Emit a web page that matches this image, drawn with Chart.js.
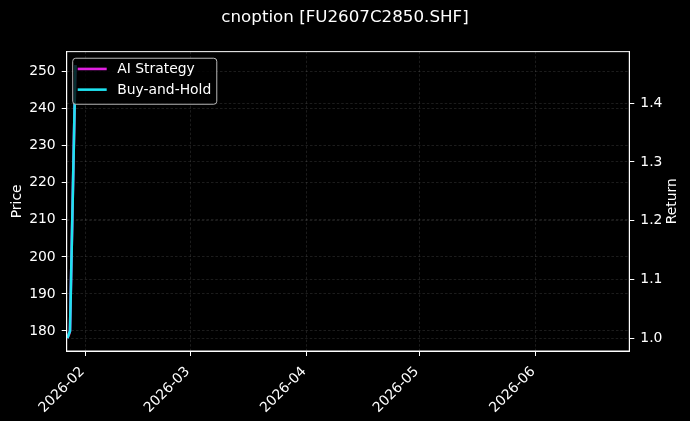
<!DOCTYPE html>
<html>
<head>
<meta charset="utf-8">
<script src="https://cdn.jsdelivr.net/npm/chart.js@4.4.1/dist/chart.umd.min.js"></script>
<style>
html,body{margin:0;padding:0;background:#000;}
#wrap{width:690px;height:421px;position:relative;}
</style>
</head>
<body>
<div id="wrap"><canvas id="c"></canvas></div>
<script>
// ---- data ----
const titleText = 'cnoption [FU2607C2850.SHF]';
const dates = ['2026-01-27T08:00:00Z', '2026-01-28T00:00:00Z', '2026-01-29T11:00:00Z'];
const priceValues = [178.3, 179.0, 251.8];
const aiReturn = [1.0, 1.012, 1.465];
const bhReturn = [1.0, 1.012, 1.465];
const seriesLabels = ['AI Strategy', 'Buy-and-Hold'];
const axisTitles = ['Price', 'Return'];
const xTickDates = ['2026-02-01', '2026-03-01', '2026-04-01', '2026-05-01', '2026-06-01'];
const priceTicks = [180, 190, 200, 210, 220, 230, 240, 250];
const returnTicks = [1.0, 1.1, 1.2, 1.3, 1.4];
const xRange = ['2026-01-27T03:00:00Z', '2026-06-25T22:00:00Z'];
const priceRange = [174.6, 255.4];
const returnRange = [0.978, 1.488];

// ---- styling ----
const FONT = 'DejaVu Sans';
const TICK_SIZE = 13.9;
const gridColor = 'rgba(255,255,255,0.16)';
const magenta = '#e020e0';
const cyan = '#1ee3f0';
const LW = 2.6;

Chart.defaults.font.family = FONT;
Chart.defaults.color = '#ffffff';

const toPts = (vals) => vals.map((v, i) => ({x: Date.parse(dates[i]), y: v}));
const pad2 = (n) => (n < 10 ? '0' : '') + n;

const frameAndLegend = {
  id: 'frameAndLegend',
  afterDraw(chart) {
    const ctx = chart.ctx;
    const a = chart.chartArea;
    ctx.save();
    // spines
    ctx.strokeStyle = '#ffffff';
    ctx.lineWidth = 1;
    ctx.strokeRect(a.left, a.top, a.right - a.left, a.bottom - a.top);

    // right axis title, reading bottom to top
    ctx.save();
    ctx.translate(chart.width - 18, (a.top + a.bottom) / 2);
    ctx.rotate(-Math.PI / 2);
    ctx.font = TICK_SIZE + 'px "' + FONT + '"';
    ctx.fillStyle = '#ffffff';
    ctx.textAlign = 'center';
    ctx.textBaseline = 'middle';
    ctx.fillText(axisTitles[1], 0, 0);
    ctx.restore();

    // legend (upper left, inside axes)
    const items = [0, 1].map(i => ({label: chart.data.datasets[i].label, color: chart.data.datasets[i].borderColor}));
    ctx.font = TICK_SIZE + 'px "' + FONT + '"';
    const maxW = Math.max(...items.map(it => ctx.measureText(it.label).width));
    const bx = a.left + 6, by = a.top + 6.6;
    const lineX0 = bx + 5, lineX1 = lineX0 + 29, textX = lineX1 + 10.5;
    const bw = textX - bx + maxW + 5.5, bh = 46;
    ctx.beginPath();
    if (ctx.roundRect) ctx.roundRect(bx, by, bw, bh, 3); else ctx.rect(bx, by, bw, bh);
    ctx.fillStyle = 'rgba(0,0,0,0.8)';
    ctx.fill();
    ctx.strokeStyle = '#b8b8b8';
    ctx.lineWidth = 1;
    ctx.stroke();
    items.forEach((it, k) => {
      const y = by + 10.7 + k * 20.7;
      ctx.beginPath();
      ctx.moveTo(lineX0, y);
      ctx.lineTo(lineX1, y);
      ctx.strokeStyle = it.color;
      ctx.lineWidth = LW;
      ctx.stroke();
      ctx.fillStyle = '#ffffff';
      ctx.textBaseline = 'middle';
      ctx.textAlign = 'left';
      ctx.fillText(it.label, textX, y + 0.5);
    });
    ctx.restore();
  }
};

new Chart(document.getElementById('c'), {
  type: 'line',
  data: {
    datasets: [
      {label: seriesLabels[0], data: toPts(aiReturn), yAxisID: 'y1', borderColor: magenta, backgroundColor: magenta, borderWidth: LW, pointRadius: 0, tension: 0, order: 2},
      {label: seriesLabels[1], data: toPts(bhReturn), yAxisID: 'y1', borderColor: cyan, backgroundColor: cyan, borderWidth: LW, pointRadius: 0, tension: 0, order: 1},
      {label: axisTitles[0], data: toPts(priceValues), yAxisID: 'y', borderColor: 'rgba(190,20,20,0.75)', backgroundColor: 'rgba(190,20,20,0.75)', borderWidth: 1.2, pointRadius: 0, tension: 0, order: 3}
    ]
  },
  options: {
    responsive: true,
    maintainAspectRatio: false,
    animation: false,
    layout: {padding: 0},
    plugins: {
      legend: {display: false},
      tooltip: {enabled: false},
      title: {
        display: true,
        text: titleText,
        color: '#ffffff',
        font: {family: FONT, size: 16.7, weight: 'normal'},
        padding: {top: 8, bottom: 23.6}
      }
    },
    scales: {
      x: {
        type: 'linear',
        position: 'bottom',
        min: Date.parse(xRange[0]),
        max: Date.parse(xRange[1]),
        afterBuildTicks: (s) => { s.ticks = xTickDates.map(d => ({value: Date.parse(d + 'T00:00:00Z')})); },
        afterFit: (s) => { s.height = 70; },
        ticks: {
          color: '#ffffff',
          font: {family: FONT, size: TICK_SIZE},
          autoSkip: false,
          minRotation: 45,
          maxRotation: 45,
          padding: 7.5,
          labelOffset: -2.5,
          callback: (v) => { const d = new Date(v); return d.getUTCFullYear() + '-' + pad2(d.getUTCMonth() + 1); }
        },
        grid: {color: gridColor, lineWidth: 0.7, tickColor: '#ffffff', tickLength: 5, tickWidth: 1},
        border: {display: true, color: '#ffffff', width: 1, dash: [2.5, 2]}
      },
      y: {
        type: 'linear',
        position: 'left',
        min: priceRange[0],
        max: priceRange[1],
        afterBuildTicks: (s) => { s.ticks = priceTicks.map(v => ({value: v})); },
        afterFit: (s) => { s.width = 66.7; },
        ticks: {color: '#ffffff', font: {family: FONT, size: TICK_SIZE}, padding: 6, callback: (v) => String(Math.round(v))},
        grid: {color: gridColor, lineWidth: 0.7, tickColor: '#ffffff', tickLength: 5, tickWidth: 1},
        border: {display: true, color: '#ffffff', width: 1, dash: [2.5, 2]},
        title: {display: true, text: axisTitles[0], color: '#ffffff', font: {family: FONT, size: TICK_SIZE}, padding: {top: 9, bottom: 0}}
      },
      y1: {
        type: 'linear',
        position: 'right',
        min: returnRange[0],
        max: returnRange[1],
        afterBuildTicks: (s) => { s.ticks = returnTicks.map(v => ({value: v})); },
        afterFit: (s) => { s.width = 60.7; },
        ticks: {color: '#ffffff', font: {family: FONT, size: TICK_SIZE}, padding: 6, callback: (v) => v.toFixed(1)},
        grid: {color: gridColor, lineWidth: 0.7, tickColor: '#ffffff', tickLength: 5, tickWidth: 1, drawOnChartArea: true},
        border: {display: true, color: '#ffffff', width: 1, dash: [2.5, 2]},
        title: {display: false}
      }
    }
  },
  plugins: [frameAndLegend]
});
</script>
</body>
</html>
